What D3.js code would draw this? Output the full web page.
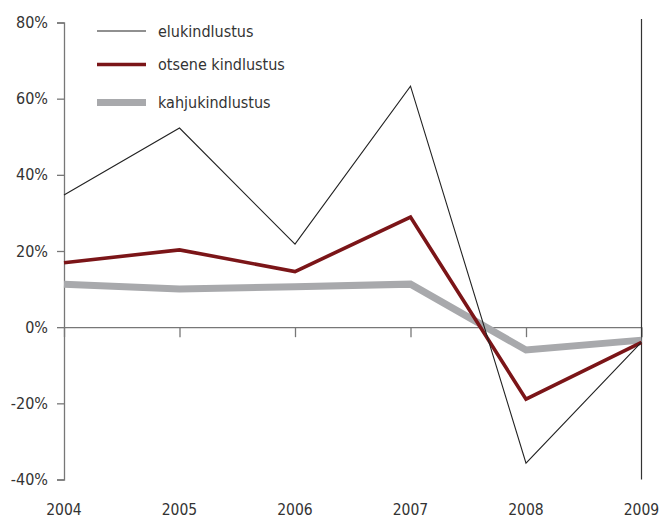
<!DOCTYPE html>
<html>
<head>
<meta charset="utf-8">
<script src="https://cdn.jsdelivr.net/npm/d3@7/dist/d3.min.js"></script>
<style>
  html, body { margin: 0; padding: 0; background: #fff; }
  svg text { font-family: "DejaVu Sans Condensed", "Liberation Sans Narrow", sans-serif; fill: #333; }
</style>
</head>
<body>
<svg id="chart" width="662" height="519"></svg>
<script>
// Annual change of insurance premiums, 2004–2009 (%)
const years = ["2004", "2005", "2006", "2007", "2008", "2009"];
const elukindlustus = [34.7, 52.3, 21.8, 63.3, -35.7, -3.9];
const otseneKindlustus = [16.9, 20.3, 14.6, 28.9, -18.9, -4.0];
const kahjukindlustus = [11.3, 10.0, 10.6, 11.3, -6.0, -3.4];
const yTicks = [80, 60, 40, 20, 0, -20, -40];

const series = [
  { name: "elukindlustus", values: elukindlustus, color: "#222222", width: 1.1 },
  { name: "otsene kindlustus", values: otseneKindlustus, color: "#7b1518", width: 3.6 },
  { name: "kahjukindlustus", values: kahjukindlustus, color: "#a8a9ac", width: 7 }
];

const svg = d3.select("#chart");
const plotLeft = 64, plotRight = 641.5, plotTop = 22.5, plotBottom = 479.5;
const fontStack = '"DejaVu Sans Condensed", "Liberation Sans Narrow", sans-serif';

const x = d3.scalePoint().domain(years).range([plotLeft, plotRight]);
const y = d3.scaleLinear().domain([-40, 80]).range([plotBottom, plotTop]);

// y axis with ticks on the left
const yAxis = svg.append("g")
  .attr("transform", `translate(${plotLeft},0)`)
  .call(d3.axisLeft(y).tickValues(yTicks).tickSize(7).tickPadding(9).tickFormat(d => d + "%"));
yAxis.select(".domain").attr("stroke", "#777").attr("stroke-width", 1.3);
yAxis.selectAll(".tick line").attr("stroke", "#777").attr("stroke-width", 1.3);
yAxis.selectAll(".tick text").attr("font-size", 16).attr("fill", "#333")
  .style("font-family", fontStack);

// zero line with year ticks hanging below
const xAxis = svg.append("g")
  .attr("transform", `translate(0,${y(0)})`)
  .call(d3.axisBottom(x).tickSize(10).tickSizeOuter(0).tickFormat(""));
xAxis.select(".domain").attr("stroke", "#777").attr("stroke-width", 1.3);
xAxis.selectAll(".tick line").attr("stroke", "#777").attr("stroke-width", 1.3);

// year labels along the bottom
svg.append("g").selectAll("text")
  .data(years)
  .join("text")
  .attr("x", d => x(d))
  .attr("y", 515)
  .attr("text-anchor", "middle")
  .attr("font-size", 15.5)
  .text(d => d);

// right border line
svg.append("line")
  .attr("x1", plotRight).attr("x2", plotRight)
  .attr("y1", 19).attr("y2", plotBottom)
  .attr("stroke", "#333").attr("stroke-width", 1.2);

// series lines, thickest first
const line = d3.line()
  .x((d, i) => x(years[i]))
  .y(d => y(d));

svg.append("g").selectAll("path")
  .data(series.slice().reverse())
  .join("path")
  .attr("d", d => line(d.values))
  .attr("fill", "none")
  .attr("stroke", d => d.color)
  .attr("stroke-width", d => d.width)
  .attr("stroke-linejoin", "miter");

// legend
const legendRows = [31, 64.5, 102.5];
const legend = svg.append("g").selectAll("g")
  .data(series)
  .join("g")
  .attr("transform", (d, i) => `translate(97,${legendRows[i]})`);
legend.append("line")
  .attr("x1", 0).attr("x2", 49)
  .attr("stroke", d => d.color)
  .attr("stroke-width", d => d.width);
legend.append("text")
  .attr("x", 61)
  .attr("y", 5.5)
  .attr("font-size", 16)
  .text(d => d.name);
</script>
</body>
</html>
